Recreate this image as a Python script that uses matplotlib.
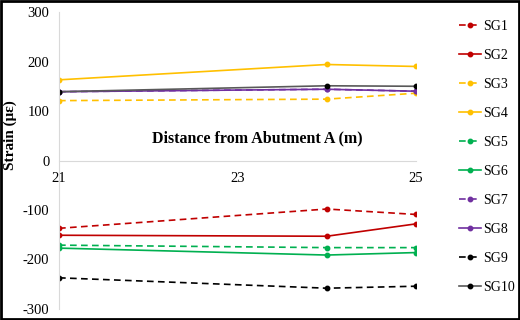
import matplotlib.pyplot as plt
from matplotlib.patches import Rectangle

plt.rcParams["font.family"] = ["Liberation Serif", "DejaVu Serif"]
plt.rcParams["axes.unicode_minus"] = False

distance = [21, 24, 25]
sg1 = [-137, -98, -109]
sg2 = [-151, -153, -128]
sg3 = [121, 124, 136]
sg4 = [163, 194, 190]
sg5 = [-171, -176, -176]
sg6 = [-177, -191, -186]
sg7 = [139, 144, 140]
sg8 = [139, 144, 140]
sg9 = [-237, -258, -254]
sg10 = [139, 151, 150]

labels = ["SG1", "SG2", "SG3", "SG4", "SG5", "SG6", "SG7", "SG8", "SG9", "SG10"]
series = [sg1, sg2, sg3, sg4, sg5, sg6, sg7, sg8, sg9, sg10]

RED, ORANGE, GREEN, PURPLE, BLACK = "#C00000", "#FFC000", "#00B050", "#7030A0", "#000000"
line_colors = [RED, RED, ORANGE, ORANGE, GREEN, GREEN, PURPLE, PURPLE, BLACK, "#595959"]
mark_colors = [RED, RED, ORANGE, ORANGE, GREEN, GREEN, PURPLE, PURPLE, BLACK, BLACK]
styles = [(0, (4, 2.6)), "-"] * 5

fig = plt.figure(figsize=(5.2, 3.2), dpi=100)
ax = fig.add_axes([0.1135, 0.0344, 0.6865, 0.928])

for vals, lab, lc, mc, ls in zip(series, labels, line_colors, mark_colors, styles):
    ax.plot(distance, vals, color=lc, ls=ls, lw=1.2, marker="o", ms=3.2,
            mfc=mc, mec=mc, label=lab)

ax.set_xlim(21, 25)
ax.set_ylim(-300, 300)
ax.set_xticks([21, 23, 25])
ax.set_yticks(range(-300, 301, 100))
for s in ["top", "right"]:
    ax.spines[s].set_visible(False)
ax.spines["left"].set_color("#D9D9D9")
ax.spines["bottom"].set_color("#D9D9D9")
ax.spines["bottom"].set_position(("data", 0))
ax.tick_params(length=0, labelsize=10.5)
ax.tick_params(axis="x", pad=8)
ax.tick_params(axis="y", pad=7)

ax.text(23.22, 45, "Distance from Abutment A (m)", ha="center", va="center",
        fontsize=11.5, fontweight="bold")
ax.set_ylabel("Strain (\u03bc\u03b5)", fontsize=11, fontweight="bold")
ax.yaxis.set_label_coords(-0.118, 0.586)

ax.legend(loc="upper left", bbox_to_anchor=(0.872, 0.954), bbox_transform=fig.transFigure,
          frameon=False, fontsize=10, labelspacing=1.15, handlelength=1.6,
          handletextpad=0.15, borderaxespad=0)

fig.patches.append(Rectangle((0.002, 0.003), 0.996, 0.994, transform=fig.transFigure,
                             fill=False, ec="black", lw=2))

fig.savefig("out.png", dpi=100)
